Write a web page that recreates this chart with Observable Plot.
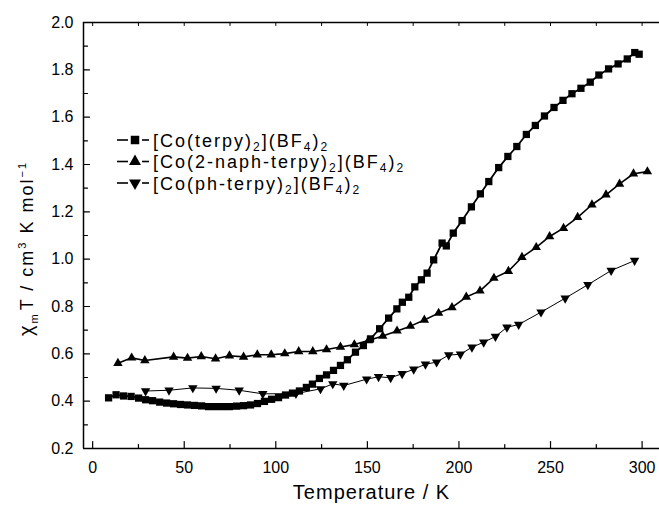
<!DOCTYPE html>
<html>
<head>
<meta charset="utf-8">
<script src="https://cdn.jsdelivr.net/npm/d3@7"></script>
<script src="https://cdn.jsdelivr.net/npm/@observablehq/plot@0.6"></script>
<style>
  html, body { margin: 0; padding: 0; background: #fff; }
  #chart { width: 659px; height: 506px; }
</style>
</head>
<body>
<div id="chart"></div>
<script>
// ---- data ----
const seriesNames = ["[Co(terpy)2](BF4)2", "[Co(2-naph-terpy)2](BF4)2", "[Co(ph-terpy)2](BF4)2"];

// [Co(terpy)2](BF4)2  (squares)
const sqT = [8.7,12.8,16.9,21.0,25.1,28.9,32.7,36.6,40.4,44.2,48.0,51.8,55.6,59.5,63.3,67.1,70.9,74.7,78.6,82.4,86.2,90.0,93.8,97.7,101.5,105.3,109.1,112.9,116.7,120.0,123.8,127.7,131.5,135.3,139.1,143.5,147.8,151.7,156.7,161.6,166.1,169.1,172.6,175.9,179.5,182.6,186.2,190.8,193.1,196.9,201.7,206.8,211.7,216.3,221.7,226.7,231.6,236.8,241.7,246.7,251.9,256.8,261.7,266.6,271.7,276.4,281.7,286.9,291.9,296.0,298.4];
const sqV = [0.414,0.427,0.422,0.420,0.413,0.406,0.402,0.396,0.392,0.389,0.386,0.384,0.382,0.380,0.377,0.377,0.377,0.377,0.379,0.381,0.384,0.390,0.399,0.408,0.415,0.426,0.434,0.443,0.458,0.472,0.496,0.511,0.530,0.551,0.575,0.607,0.635,0.663,0.706,0.751,0.790,0.818,0.839,0.883,0.913,0.941,0.997,1.068,1.056,1.110,1.163,1.221,1.276,1.328,1.387,1.434,1.476,1.527,1.565,1.605,1.641,1.671,1.699,1.722,1.748,1.778,1.804,1.825,1.846,1.873,1.866];

// [Co(2-naph-terpy)2](BF4)2  (up triangles)
const upT = [13.8,21.3,28.5,44.2,51.8,59.3,67.1,74.7,82.4,89.9,97.5,104.9,112.5,120.2,127.7,135.3,142.9,150.6,158.4,166.2,173.5,181.1,188.9,196.2,204.0,211.5,219.1,227.0,234.4,242.2,249.5,257.1,264.8,272.6,280.3,287.7,295.3,302.9];
const upV = [0.560,0.583,0.572,0.587,0.582,0.589,0.579,0.592,0.587,0.596,0.596,0.601,0.610,0.610,0.618,0.629,0.639,0.656,0.675,0.697,0.717,0.743,0.772,0.796,0.840,0.866,0.920,0.949,1.008,1.050,1.096,1.131,1.177,1.230,1.272,1.318,1.361,1.370];

// [Co(ph-terpy)2](BF4)2  (down triangles)
const dnT = [28.9,41.7,54.7,67.4,80.0,92.9,111.0,124.4,131.1,137.1,149.6,156.1,162.7,169.0,175.3,181.7,187.8,194.4,200.8,207.1,213.5,219.9,226.2,232.6,244.8,258.0,270.4,283.1,295.9];
const dnV = [0.443,0.446,0.456,0.454,0.446,0.431,0.432,0.452,0.473,0.466,0.493,0.503,0.499,0.516,0.535,0.556,0.565,0.595,0.598,0.628,0.649,0.673,0.712,0.724,0.776,0.835,0.892,0.952,0.994];

const xMajor = [0, 50, 100, 150, 200, 250, 300];
const xMinor = [25, 75, 125, 175, 225, 275];
const xTop = [0, 25, 50, 75, 100, 125, 150, 175, 200, 225, 250, 275, 300];
const yMajor = [0.2, 0.4, 0.6, 0.8, 1.0, 1.2, 1.4, 1.6, 1.8, 2.0];
const yMinor = [0.3, 0.5, 0.7, 0.9, 1.1, 1.3, 1.5, 1.7, 1.9];
const xTitle = "Temperature / K";

// ---- build tables ----
const sq = sqT.map((t, i) => ({T: t, v: sqV[i]}));
const up = upT.map((t, i) => ({T: t, v: upV[i]}));
const dn = dnT.map((t, i) => ({T: t, v: dnV[i]}));

const tickShape = { draw(context, l) { context.moveTo(0, 0); context.lineTo(0, -l); } };
const triDown = {
  draw(context, size) {
    const y = -Math.sqrt(size / (Math.sqrt(3) * 3));
    context.moveTo(0, -2 * y);
    context.lineTo(Math.sqrt(3) * y, y);
    context.lineTo(-Math.sqrt(3) * y, y);
    context.closePath();
  }
};

const FONT = "'Liberation Sans', Arial, sans-serif";

const svg = Plot.plot({
  width: 659,
  height: 506,
  marginLeft: 83,
  marginRight: 0,
  marginTop: 22,
  marginBottom: 58,
  style: { fontFamily: FONT, fontSize: "16px", color: "black", background: "white", overflow: "visible" },
  x: { domain: [-5, 309.5] },
  y: { domain: [0.2, 2.0] },
  marks: [
    Plot.axisX({ ticks: xMajor, tickSize: 0, tickPadding: 13, tickFormat: d => String(d), label: null, fontSize: 16 }),
    Plot.axisY({ ticks: yMajor, tickSize: 0, tickPadding: 10, tickFormat: d => d.toFixed(1), label: null, fontSize: 16 }),
    // frame lines
    Plot.ruleY([0.2], { stroke: "black", strokeWidth: 1.5 }),
    Plot.ruleY([2.0], { stroke: "black", strokeWidth: 1.5 }),
    Plot.ruleX([-5], { stroke: "black", strokeWidth: 1.5 }),
    // inward ticks
    Plot.vector(xMajor, { x: d => d, frameAnchor: "bottom", length: 7, rotate: 0, anchor: "start", shape: tickShape, stroke: "black", strokeWidth: 1.2 }),
    Plot.vector(xMinor, { x: d => d, frameAnchor: "bottom", length: 4, rotate: 0, anchor: "start", shape: tickShape, stroke: "black", strokeWidth: 1.2 }),
    Plot.vector(xTop, { x: d => d, frameAnchor: "top", length: 3, rotate: 180, anchor: "start", shape: tickShape, stroke: "black", strokeWidth: 1 }),
    Plot.vector(yMajor, { y: d => d, frameAnchor: "left", length: 6, rotate: 90, anchor: "start", shape: tickShape, stroke: "black", strokeWidth: 1.2 }),
    Plot.vector(yMinor, { y: d => d, frameAnchor: "left", length: 4, rotate: 90, anchor: "start", shape: tickShape, stroke: "black", strokeWidth: 1.2 }),
    // series
    Plot.line(dn, { x: "T", y: "v", stroke: "black", strokeWidth: 1 }),
    Plot.dot(dn, { x: "T", y: "v", symbol: triDown, r: 3.5, fill: "black", stroke: "none" }),
    Plot.line(up, { x: "T", y: "v", stroke: "black", strokeWidth: 1.6 }),
    Plot.dot(up, { x: "T", y: "v", symbol: "triangle", r: 3.5, fill: "black", stroke: "none" }),
    Plot.line(sq, { x: "T", y: "v", stroke: "black", strokeWidth: 1.8 }),
    Plot.dot(sq, { x: "T", y: "v", symbol: "square", r: 4.1, fill: "black", stroke: "none" }),
    // x title
    Plot.text([xTitle], { frameAnchor: "bottom", text: d => d, dy: 50, fontSize: 20, fill: "black", lineAnchor: "bottom" })
  ]
});

document.getElementById("chart").appendChild(svg);

const s = d3.select(svg);
s.selectAll("text").filter(function() { return this.textContent === xTitle; }).style("letter-spacing", "1px");

// ---- y-axis title with sub/superscripts ----
const yl = s.append("text")
  .attr("transform", "translate(33,336) rotate(-90)")
  .attr("text-anchor", "start")
  .style("font-family", FONT)
  .style("font-size", "18px")
  .style("letter-spacing", "2px")
  .attr("fill", "black");
yl.append("tspan").style("font-size", "20px").text("χ");
yl.append("tspan").attr("dy", 5).style("font-size", "11px").text("m");
yl.append("tspan").attr("dy", -5).attr("dx", 2).text("T / cm");
yl.append("tspan").attr("dy", -7).style("font-size", "11px").text("3");
yl.append("tspan").attr("dy", 7).text(" K mol");
yl.append("tspan").attr("dy", -7).style("font-size", "11px").text("−1");

// ---- legend ----
const legendRows = [
  { parts: [["[Co(terpy)", 0], ["2", 1], ["](BF", 0], ["4", 1], [")", 0], ["2", 1]], sym: d3.symbolSquare, size: 72 },
  { parts: [["[Co(2-naph-terpy)", 0], ["2", 1], ["](BF", 0], ["4", 1], [")", 0], ["2", 1]], sym: d3.symbolTriangle, size: 62 },
  { parts: [["[Co(ph-terpy)", 0], ["2", 1], ["](BF", 0], ["4", 1], [")", 0], ["2", 1]], sym: triDown, size: 62 }
];
const rowY = [140, 161.5, 183];
legendRows.forEach((row, i) => {
  const y = rowY[i];
  const g = s.append("g").attr("text-anchor", "start");
  g.append("line").attr("x1", 117).attr("x2", 128).attr("y1", y).attr("y2", y).attr("stroke", "black").attr("stroke-width", 1.6);
  g.append("line").attr("x1", 142).attr("x2", 149).attr("y1", y).attr("y2", y).attr("stroke", "black").attr("stroke-width", 1.6);
  g.append("path").attr("d", d3.symbol().type(row.sym).size(row.size)()).attr("transform", `translate(135,${y})`).attr("fill", "black");
  const t = g.append("text").attr("x", 153).attr("y", y + 6.5).attr("text-anchor", "start")
    .style("font-family", FONT).style("font-size", "18px").style("letter-spacing", "2px").attr("fill", "black");
  let shifted = false;
  row.parts.forEach(([str, sub]) => {
    const ts = t.append("tspan").text(str);
    if (sub && !shifted) { ts.attr("dy", 4).style("font-size", "12px"); shifted = true; }
    else if (sub && shifted) { ts.style("font-size", "12px"); }
    else if (!sub && shifted) { ts.attr("dy", -4); shifted = false; }
  });
});
</script>
</body>
</html>
